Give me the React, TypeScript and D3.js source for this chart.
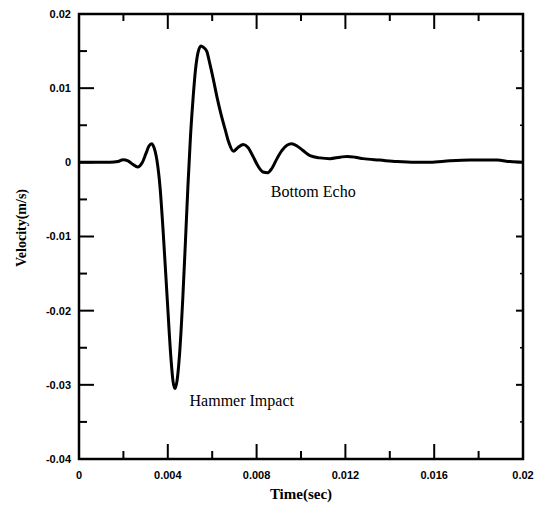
import React from "react";
import * as d3 from "d3";

const timeSec = [
  0, 0.000495, 0.000946, 0.001396, 0.001757, 0.001982, 0.002207, 0.002432, 0.002644, 0.002838,
  0.003018, 0.003153, 0.003275, 0.003378, 0.003514, 0.003649, 0.003784, 0.003978, 0.004144, 0.004234,
  0.004324, 0.004414, 0.004527, 0.004671, 0.004797, 0.004910, 0.005022, 0.005135, 0.005248, 0.005360,
  0.005495, 0.005608, 0.005752, 0.005901, 0.00605, 0.006216, 0.006396, 0.006577, 0.006757, 0.006951,
  0.007162, 0.007401, 0.007613, 0.007838, 0.008063, 0.008288, 0.0085, 0.008694, 0.008919, 0.009144,
  0.009369, 0.009581, 0.00982, 0.01009, 0.010405, 0.010856, 0.011306, 0.011757, 0.012072, 0.012432,
  0.012793, 0.013559, 0.014324, 0.015135, 0.015811, 0.016712, 0.017613, 0.018288, 0.018829, 0.019414,
  0.02,
];
const velocity = [
  0, 0, 0, 0, 0.0001, 0.00036, 0.0002, -0.0003, -0.00063, -0.0001,
  0.0012, 0.0022, 0.0025, 0.002, 0.0002, -0.0033, -0.009, -0.0186, -0.0265, -0.0295,
  -0.0305, -0.0295, -0.026, -0.0186, -0.0105, -0.003, 0.0035, 0.0085, 0.0125, 0.0148,
  0.0157, 0.0155, 0.015, 0.0132, 0.0112, 0.0088, 0.0065, 0.0045, 0.0026, 0.0015,
  0.002, 0.0024, 0.002, 0.0008, -0.0005, -0.0013, -0.0014, -0.0008, 0.0005, 0.0016,
  0.0023, 0.0025, 0.0022, 0.0016, 0.0009, 0.0006, 0.0005, 0.0007, 0.0008, 0.0007,
  0.0005, 0.0003, 0.0001, 0, 0, 0.0002, 0.0003, 0.0003, 0.0003, 0.0001,
  0,
];
const xTickLabels = ["0", "0.004", "0.008", "0.012", "0.016", "0.02"];
const xMajor = [0, 0.004, 0.008, 0.012, 0.016, 0.02];
const xMinor = [0.002, 0.006, 0.01, 0.014, 0.018];
const yTickLabels = ["0.02", "0.01", "0", "-0.01", "-0.02", "-0.03", "-0.04"];
const yMajor = [0.02, 0.01, 0, -0.01, -0.02, -0.03, -0.04];
const yMinor = [0.015, 0.005, -0.005, -0.015, -0.025, -0.035];
const annotations = [
  { text: "Hammer Impact", t: 0.00498, v: -0.0329 },
  { text: "Bottom Echo", t: 0.00864, v: -0.0047 },
];

const W = 541, H = 506;
const L = 79, R = 523, T = 14, B = 459;

export default function App() {
  const x = d3.scaleLinear().domain([0, 0.02]).range([L, R]);
  const y = d3.scaleLinear().domain([-0.04, 0.02]).range([B, T]);
  const pts = timeSec.map((t, i) => [t, velocity[i]] as [number, number]);
  const line = d3.line<[number, number]>().x(d => x(d[0])).y(d => y(d[1])).curve(d3.curveMonotoneX);
  const sans = "'Liberation Sans', Arial, sans-serif";
  const serif = "'Liberation Serif', 'Times New Roman', serif";
  return (
    <svg width={W} height={H} style={{ position: "absolute", left: 0, top: 0, background: "#fff" }}>
      <rect x={0} y={0} width={W} height={H} fill="#fff" />
      {xMajor.map((t, i) => (
        <g key={"xm" + i}>
          <line x1={x(t)} x2={x(t)} y1={B} y2={B - 15} stroke="#000" strokeWidth={2} />
          <line x1={x(t)} x2={x(t)} y1={T} y2={T + 15} stroke="#000" strokeWidth={2} />
        </g>
      ))}
      {xMinor.map((t, i) => (
        <g key={"xn" + i}>
          <line x1={x(t)} x2={x(t)} y1={B} y2={B - 8} stroke="#000" strokeWidth={2} />
          <line x1={x(t)} x2={x(t)} y1={T} y2={T + 7} stroke="#000" strokeWidth={2} />
        </g>
      ))}
      {yMajor.map((v, i) => (
        <g key={"ym" + i}>
          <line x1={L} x2={L + 15} y1={y(v)} y2={y(v)} stroke="#000" strokeWidth={2} />
          <line x1={R} x2={R - 7} y1={y(v)} y2={y(v)} stroke="#000" strokeWidth={2} />
        </g>
      ))}
      {yMinor.map((v, i) => (
        <g key={"yn" + i}>
          <line x1={L} x2={L + 8} y1={y(v)} y2={y(v)} stroke="#000" strokeWidth={2} />
          <line x1={R} x2={R - 3} y1={y(v)} y2={y(v)} stroke="#000" strokeWidth={1.5} />
        </g>
      ))}
      <rect x={L} y={T} width={R - L} height={B - T} fill="none" stroke="#000" strokeWidth={2.5} />
      <path d={line(pts) || ""} fill="none" stroke="#000" strokeWidth={3} strokeLinejoin="round" />
      {xMajor.map((t, i) => (
        <text key={"xl" + i} x={x(t)} y={479} textAnchor="middle" fontFamily={sans} fontWeight="bold" fontSize={11}>
          {xTickLabels[i]}
        </text>
      ))}
      {yMajor.map((v, i) => (
        <text key={"yl" + i} x={71} y={y(v)} dy="0.36em" textAnchor="end" fontFamily={sans} fontWeight="bold" fontSize={11}>
          {yTickLabels[i]}
        </text>
      ))}
      <text x={(L + R) / 2} y={499} textAnchor="middle" fontFamily={serif} fontWeight="bold" fontSize={15}>
        Time(sec)
      </text>
      <text transform={`translate(26,${228}) rotate(-90)`} textAnchor="middle" fontFamily={serif} fontWeight="bold" fontSize={14}>
        Velocity(m/s)
      </text>
      {annotations.map((a, i) => (
        <text key={"an" + i} x={x(a.t)} y={y(a.v)} fontFamily={serif} fontSize={16}>
          {a.text}
        </text>
      ))}
    </svg>
  );
}
